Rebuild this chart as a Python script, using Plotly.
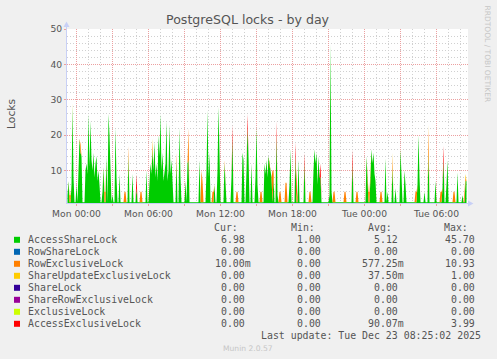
import pandas as pd
import plotly.graph_objects as go

# ---------------- data (5-minute samples, Sun 23:15 -> Tue 08:30) ----------------
START = "2025-12-21 23:15"
STEP = "5min"

ACCESS_SHARE = [
    3, 7, 1, 1, 6, 28, 8, 1, 1, 6,
    1, 12, 19, 15, 14, 1, 1, 1, 10, 12,
    9, 26, 11, 24, 13, 10, 15, 8, 12, 14,
    7, 10, 6, 1, 1, 4, 11, 1, 1, 14,
    1, 26, 20, 10, 1, 3, 1, 1, 22, 8,
    1, 1, 9, 1, 1, 1, 1, 1, 1, 1,
    1, 14, 1, 1, 1, 9, 1, 1, 1, 5,
    1, 1, 1, 1, 1, 1, 1, 1, 1, 10,
    1, 1, 6, 12, 9, 16, 10, 18, 8, 12,
    7, 20, 14, 26, 10, 15, 7, 9, 12, 24,
    7, 10, 23, 9, 13, 7, 1, 1, 1, 13,
    1, 1, 22, 8, 1, 1, 1, 1, 7, 1,
    12, 13, 1, 1, 1, 1, 1, 1, 1, 1,
    1, 1, 13, 1, 1, 1, 1, 1, 1, 10,
    27, 8, 15, 1, 1, 1, 1, 6, 1, 1,
    10, 28, 12, 1, 1, 1, 1, 12, 6, 1,
    1, 1, 1, 1, 8, 19, 1, 1, 1, 1,
    1, 1, 1, 1, 1, 15, 13, 1, 1, 10,
    22, 14, 1, 1, 12, 1, 1, 1, 8, 22,
    6, 1, 1, 1, 1, 1, 1, 12, 9, 13,
    8, 14, 11, 10, 8, 1, 8, 1, 1, 20,
    3, 1, 1, 1, 1, 1, 1, 1, 1, 1,
    1, 1, 6, 16, 1, 1, 1, 1, 14, 1,
    1, 13, 1, 1, 1, 1, 1, 12, 1, 1,
    1, 1, 1, 1, 1, 1, 10, 16, 12, 15,
    6, 14, 8, 8, 1, 1, 1, 1, 1, 1,
    1, 1, 3, 45.7, 4, 1, 1, 1, 1, 1,
    1, 1, 1, 1, 1, 1, 1, 1, 1, 1,
    1, 1, 1, 1, 1, 12, 1, 1, 1, 1,
    1, 1, 1, 1, 1, 1, 1, 1, 1, 14,
    6, 1, 1, 10, 16, 12, 15, 9, 7, 1,
    1, 1, 1, 1, 1, 1, 1, 1, 13.5, 1,
    4, 1, 1, 1, 1, 11, 1, 1, 5, 1,
    1, 1, 1, 16, 7, 1, 1, 10, 6, 1,
    1, 1, 1, 1, 1, 1, 1, 1, 1, 1,
    6, 20, 8, 1, 1, 1, 1, 4, 1, 1,
    1, 15, 1, 1, 1, 1, 1, 1, 7, 1,
    1, 1, 1, 1, 1, 5, 13, 1, 1, 6,
    13, 1, 1, 1, 1, 1, 1, 1, 1, 1,
    9.5, 1, 1, 1, 1, 3, 1, 1, 7, 6.98,
]
N = len(ACCESS_SHARE)

# sparse series: sample index -> value (all other samples are 0)
ROW_EXCLUSIVE_PTS = {
    2: 2, 3: 2, 13: 2.5, 37: 3, 38: 3, 57: 3, 58: 3, 61: 3, 73: 3, 74: 3,
    85: 2, 109: 2, 121: 9, 134: 9, 135: 6, 145: 3, 146: 3, 157: 1,
    169: 3, 170: 3, 193: 3, 194: 3, 205: 9, 206: 2, 212: 3, 213: 3,
    218: 5.5, 219: 5.5, 229: 3, 242: 3, 243: 3, 266: 3, 267: 3,
    277: 3, 278: 3, 289: 3, 290: 3, 301: 3, 302: 3, 313: 3, 314: 3,
    325: 3, 348: 3, 349: 3, 361: 7, 373: 3, 374: 3, 386: 3, 387: 3,
    397: 3, 398: 1, 399: 0.01,
}
SHARE_UPDATE_EXCL_PTS = {5: 1, 85: 1, 325: 1, 361: 1, 398: 1}
ACCESS_EXCL_PTS = {69: 4, 165: 4, 180: 4, 209: 4, 228: 4, 237: 3, 253: 4, 285: 4, 376: 4}

NAMES = ["AccessShareLock", "RowShareLock", "RowExclusiveLock", "ShareUpdateExclusiveLock",
         "ShareLock", "ShareRowExclusiveLock", "ExclusiveLock", "AccessExclusiveLock"]
COLORS = ["#00CC00", "#0066B3", "#FF8000", "#FFCC00", "#330099", "#990099", "#CCFF00", "#FF0000"]
CUR = ["6.98", "0.00", "10.00m", "0.00", "0.00", "0.00", "0.00", "0.00"]
MIN = ["1.00", "0.00", "0.00", "0.00", "0.00", "0.00", "0.00", "0.00"]
AVG = ["5.12", "0.00", "577.25m", "37.50m", "0.00", "0.00", "0.00", "90.07m"]
MAX = ["45.70", "0.00", "10.93", "1.00", "0.00", "0.00", "0.00", "3.99"]

TICK_TIMES = ["2025-12-22 00:00", "2025-12-22 03:00", "2025-12-22 06:00", "2025-12-22 09:00",
              "2025-12-22 12:00", "2025-12-22 15:00", "2025-12-22 18:00", "2025-12-22 21:00",
              "2025-12-23 00:00", "2025-12-23 03:00", "2025-12-23 06:00"]
TICK_LABELS = ["Mon 00:00", "", "Mon 06:00", "", "Mon 12:00", "", "Mon 18:00", "",
               "Tue 00:00", "", "Tue 06:00"]
Y_TICKS = [10, 20, 30, 40, 50]

X_RANGE = ["2025-12-21 23:12:30", "2025-12-23 08:37:30"]
Y_RANGE = [0.8, 50.05]


def expand(points):
    return [float(points.get(i, 0)) for i in range(N)]


times = pd.date_range(START, periods=N, freq=STEP)
series_vals = [
    ACCESS_SHARE, [0.0] * N, expand(ROW_EXCLUSIVE_PTS), expand(SHARE_UPDATE_EXCL_PTS),
    [0.0] * N, [0.0] * N, [0.0] * N, expand(ACCESS_EXCL_PTS),
]

# minor grid positions (hourly / every 2 units), skipping the major ones
hours = pd.date_range("2025-12-21 23:00", "2025-12-23 08:00", freq="1h")
x_minor = [h.strftime("%Y-%m-%d %H:%M") for h in hours if h.hour % 3 != 0]
y_minor = [v for v in range(2, 50, 2) if v % 10 != 0]

# ---------------- layout geometry ----------------
W, H = 497, 359
L, R, T, B = 67, 29, 29, 156
PW = W - L - R
PH = H - T - B


def xp(px):
    return (px - L) / PW


def yp(py):
    return (T + PH - py) / PH


TXT = "#555555"
MAJOR = "#eca0a0"
MINOR = "#d0d0d0"
AXIS = "#c8d0f6"

fig = go.Figure()
for name, color, vals in zip(NAMES, COLORS, series_vals):
    fig.add_trace(go.Scatter(
        x=times, y=vals, name=name, stackgroup="locks", mode="lines",
        line=dict(width=0, color=color), fillcolor=color,
        showlegend=False, hoverinfo="skip",
    ))

fig.update_xaxes(
    type="date", range=X_RANGE,
    tickmode="array", tickvals=TICK_TIMES, ticktext=TICK_LABELS,
    showgrid=True, gridcolor=MAJOR, griddash="1px,1px", gridwidth=1,
    ticks="outside", ticklen=2, tickcolor=MAJOR, tickwidth=1,
    minor=dict(tickmode="array", tickvals=x_minor, showgrid=True,
               gridcolor=MINOR, griddash="1px,2px", gridwidth=1, ticks=""),
    showline=False, zeroline=False, fixedrange=True,
    tickfont=dict(family="DejaVu Sans", size=9.2, color=TXT),
)
fig.update_yaxes(
    range=Y_RANGE, tickmode="array", tickvals=Y_TICKS,
    showgrid=True, gridcolor=MAJOR, griddash="1px,1px", gridwidth=1,
    ticks="outside", ticklen=2, tickcolor=MAJOR,
    minor=dict(tickmode="array", tickvals=y_minor, showgrid=True, gridcolor=MINOR,
               griddash="1px,2px", gridwidth=1, ticks=""),
    showline=False, zeroline=False, fixedrange=True,
    tickfont=dict(family="DejaVu Sans", size=9.2, color=TXT),
    ticklabelstandoff=0,
)

ann = []
shapes = []


def text(x, y, s, size, color=TXT, family="DejaVu Sans", xanchor="center", angle=0):
    ann.append(dict(x=xp(x), y=yp(y), xref="paper", yref="paper", text=s, showarrow=False,
                    xanchor=xanchor, yanchor="middle", textangle=angle,
                    font=dict(family=family, size=size, color=color)))


text(248, 19.5, "PostgreSQL locks - by day", 12.6)
text(11, 114, "Locks", 10.8, angle=-90)
text(487.5, 54, "RRDTOOL / TOBI OETIKER", 7.5, color="#c6c6c6", angle=90)

MONO = "DejaVu Sans Mono"
LS = 9.9
CW = 5.96
text(240, 227.3, "Cur:", LS, family=MONO, xanchor="right")
text(317.3, 227.3, "Min:", LS, family=MONO, xanchor="right")
text(393.5, 227.3, "Avg:", LS, family=MONO, xanchor="right")
text(470.3, 227.3, "Max:", LS, family=MONO, xanchor="right")

col_ends = [246.7, 323.0, 399.7, 476.7]
for k, name in enumerate(NAMES):
    yc = 239.8 + 12 * k
    shapes.append(dict(type="rect", xref="paper", yref="paper",
                       x0=xp(14), x1=xp(20), y0=yp(yc + 3), y1=yp(yc - 3),
                       fillcolor=COLORS[k], line=dict(width=0)))
    text(26, yc, name, LS, family=MONO, xanchor="left")
    for col, end in zip((CUR, MIN, AVG, MAX), col_ends):
        s = col[k]
        e = end + (CW if s.endswith("m") else 0)
        text(e, yc, s, LS, family=MONO, xanchor="right")

text(482.5, 335.8, "Last update: Tue Dec 23 08:25:02 2025", LS, family=MONO, xanchor="right")
text(248, 348, "Munin 2.0.57", 7.6, color="#c6c6c6")

# axis lines with arrows (rrdtool style)
shapes.append(dict(type="line", xref="paper", yref="paper", x0=xp(66.5), x1=xp(66.5),
                   y0=yp(204), y1=yp(25), line=dict(color=AXIS, width=1)))
shapes.append(dict(type="line", xref="paper", yref="paper", x0=xp(66), x1=xp(470),
                   y0=yp(203.5), y1=yp(203.5), line=dict(color=AXIS, width=1)))
shapes.append(dict(type="path", xref="paper", yref="paper",
                   path=f"M {xp(63.5)} {yp(27)} L {xp(66.5)} {yp(21.5)} L {xp(69.5)} {yp(27)} Z",
                   fillcolor=AXIS, line=dict(width=0)))
shapes.append(dict(type="path", xref="paper", yref="paper",
                   path=f"M {xp(468)} {yp(200.5)} L {xp(473.5)} {yp(203.5)} L {xp(468)} {yp(206.5)} Z",
                   fillcolor=AXIS, line=dict(width=0)))

fig.update_layout(
    width=W, height=H, margin=dict(l=L, r=R, t=T, b=B, pad=0),
    paper_bgcolor="#f0f0f0", plot_bgcolor="#ffffff",
    annotations=ann, shapes=shapes, showlegend=False,
)

fig.write_html("out.html")
